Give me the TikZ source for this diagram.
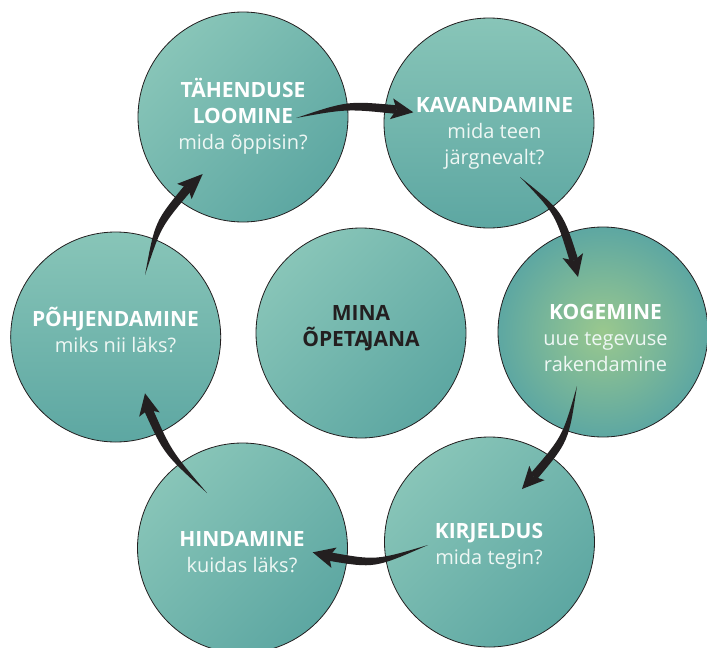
\documentclass[tikz,border=0pt]{standalone}
\usepackage{fontspec}
\setmainfont{Open Sans}
\usetikzlibrary{calc}

\definecolor{tealLight}{HTML}{88C5B8}
\definecolor{tealDark}{HTML}{5DA7A2}
\definecolor{glow}{HTML}{9AC88E}
\definecolor{ink}{HTML}{231F20}
\definecolor{softwhite}{HTML}{EEF7F4}

% bold heading lines
\newcommand\wtitle{\bfseries\fontsize{21}{26}\selectfont\color{white}}
\newcommand\dtitle{\bfseries\fontsize{21}{26}\selectfont\color{ink}}

% tapered curved arrow: #1 tail, #2 bend control, #3 neck of the head, #4 tip
\newcommand\taperarrow[4]{%
  \coordinate (ta-l) at ($(#3)!4.3pt!90:(#2)$);
  \coordinate (ta-r) at ($(#3)!4.3pt!-90:(#2)$);
  \coordinate (ta-cl) at ($(#2)!4pt!-90:(#3)$);
  \coordinate (ta-cr) at ($(#2)!4pt!90:(#3)$);
  \fill[arrowink] (#1) .. controls (ta-cl) .. (ta-l) -- (ta-r) .. controls (ta-cr) .. (#1) -- cycle;
  \coordinate (ta-b) at ($(#3)!-5pt!(#4)$);
  \coordinate (ta-1) at ($(ta-b)!10.5pt!90:(#4)$);
  \coordinate (ta-2) at ($(ta-b)!10.5pt!-90:(#4)$);
  \fill[arrowink] (#4) -- (ta-1) -- (#3) -- (ta-2) -- cycle;
}

\begin{document}
\begin{tikzpicture}[x=1pt,y=-1pt,
  disc/.style={circle, draw=ink, line width=0.8pt, minimum size=210pt, inner sep=0pt},
  diag/.style={disc, top color=tealLight, bottom color=tealDark, shading angle=45},
  vert/.style={disc, top color=tealLight, bottom color=tealDark},
  glowdisc/.style={disc, inner color=glow, outer color=tealDark},
  txt/.style={align=center, inner sep=0pt, text=softwhite, font=\fontsize{20}{26}\selectfont},
  arrowink/.style={fill=ink}
]
\useasboundingbox (0,0) rectangle (707,648);

% the seven discs
\node[diag]     (c1) at (243,117)   {};
\node[vert]     (c2) at (489,123)   {};
\node[glowdisc] (c3) at (603,332)   {};
\node[diag]     (c4) at (489.5,542) {};
\node[diag]     (c5) at (242.5,548) {};
\node[vert]     (c6) at (115.7,337) {};
\node[diag]     (c7) at (361,333)   {};

% texts
\node[txt] (t1) at (243,116.5) {{\wtitle TÄHENDUSE}\\{\wtitle LOOMINE}\\mida õppisin?};
\node[txt] (t2) at (494.5,133) {{\wtitle KAVANDAMINE}\\mida teen\\järgnevalt?};
\node[txt] (t3) at (605.5,338) {{\wtitle KOGEMINE}\\uue tegevuse\\rakendamine};
\node[txt] (t4) at (489,546.7) {{\wtitle KIRJELDUS}\\mida tegin?};
\node[txt] (t5) at (242,551.7) {{\wtitle HINDAMINE}\\kuidas läks?};
\node[txt] (t6) at (115.5,329.5) {{\wtitle PÕHJENDAMINE}\\miks nii läks?};
\node[txt] (t7) at (361,327.8) {{\dtitle MINA}\\{\dtitle ÕPETA\kern-2.5pt JANA}};

% arrow paths: tail, bend, neck, tip
\coordinate (a1t) at (296,118);   \coordinate (a1c) at (347.2,104.8);
\coordinate (a1n) at (396.5,109.6); \coordinate (a1p) at (413.3,112.3);
\coordinate (a2t) at (520,177);   \coordinate (a2c) at (559,212.5);
\coordinate (a2n) at (574,260.5); \coordinate (a2p) at (578,277);
\coordinate (a3t) at (577,386);   \coordinate (a3c) at (565.6,439);
\coordinate (a3n) at (533.6,476.6); \coordinate (a3p) at (522,489);
\coordinate (a4t) at (428,545);   \coordinate (a4c) at (375.2,564.4);
\coordinate (a4n) at (329.2,556.5); \coordinate (a4p) at (312.7,552.3);
\coordinate (a5t) at (207,493);   \coordinate (a5c) at (167.5,452.3);
\coordinate (a5n) at (148.4,409.7); \coordinate (a5p) at (145,393.3);
\coordinate (a6t) at (145,275);   \coordinate (a6c) at (157.9,224.1);
\coordinate (a6n) at (188,188);   \coordinate (a6p) at (202.7,174);

\taperarrow{a1t}{a1c}{a1n}{a1p}
\taperarrow{a2t}{a2c}{a2n}{a2p}
\taperarrow{a3t}{a3c}{a3n}{a3p}
\taperarrow{a4t}{a4c}{a4n}{a4p}
\taperarrow{a5t}{a5c}{a5n}{a5p}
\taperarrow{a6t}{a6c}{a6n}{a6p}
\end{tikzpicture}
\end{document}
